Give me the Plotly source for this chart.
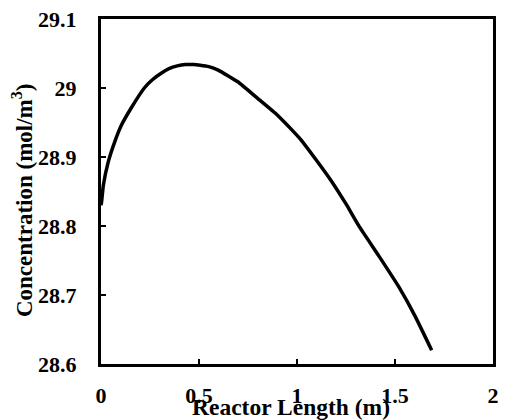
import plotly.graph_objects as go

length_m = [0.0, 0.003, 0.012, 0.037, 0.07, 0.104, 0.154, 0.221, 0.262, 0.305, 0.347, 0.389, 0.43,
            0.472, 0.506, 0.55, 0.598, 0.698, 0.799, 0.899, 0.975, 1.017, 1.1, 1.176, 1.25, 1.318,
            1.419, 1.519, 1.603, 1.687]
conc = [28.83, 28.835, 28.859, 28.893, 28.922, 28.946, 28.971, 29.0, 29.012, 29.021, 29.028, 29.032,
        29.034, 29.034, 29.033, 29.031, 29.026, 29.009, 28.985, 28.961, 28.939, 28.926, 28.895,
        28.865, 28.832, 28.799, 28.756, 28.712, 28.669, 28.620]

x_ticks = [0, 0.5, 1, 1.5, 2]
x_labels = ["0", "0.5", "1", "1.5", "2"]
y_ticks = [28.6, 28.7, 28.8, 28.9, 29.0, 29.1]
y_labels = ["28.6", "28.7", "28.8", "28.9", "29", "29.1"]

FAM = "Liberation Serif, Times New Roman, serif"
tickfont = dict(family=FAM, size=22, color="black", weight="bold")

fig = go.Figure()
fig.add_trace(go.Scatter(x=length_m, y=conc, mode="lines",
                         line=dict(color="black", width=3.5, shape="spline", smoothing=0.4),
                         showlegend=False))

fig.update_layout(
    width=505, height=420,
    margin=dict(l=101, r=6, t=19, b=56),
    paper_bgcolor="white", plot_bgcolor="white",
    font=dict(family=FAM, size=22, color="black"),
    xaxis=dict(range=[0, 2], tickvals=x_ticks, ticktext=x_labels, showgrid=False, zeroline=False,
               showline=True, linecolor="black", linewidth=3, mirror=True,
               ticks="inside", ticklen=5, tickwidth=2, tickcolor="black",
               ticklabelstandoff=10, tickfont=tickfont),
    yaxis=dict(range=[28.6, 29.1], tickvals=y_ticks, ticktext=y_labels, showgrid=False, zeroline=False,
               showline=True, linecolor="black", linewidth=3, mirror=True,
               ticks="inside", ticklen=5, tickwidth=2, tickcolor="black",
               ticklabelstandoff=17, tickfont=tickfont),
    annotations=[
        dict(text="<b>Reactor Length (m)</b>", x=0.5, y=-0.124, xref="paper", yref="paper",
             xanchor="center", yanchor="middle", showarrow=False, xshift=-6,
             font=dict(family=FAM, size=23.5, color="black")),
        dict(text="<b>Concentration (mol/m<sup>3</sup>)</b>", x=-0.2, y=0.5, xref="paper", yref="paper",
             xanchor="center", yanchor="middle", showarrow=False, textangle=-90, yshift=-9,
             font=dict(family=FAM, size=23, color="black")),
    ],
)

fig.write_html("out.html")
